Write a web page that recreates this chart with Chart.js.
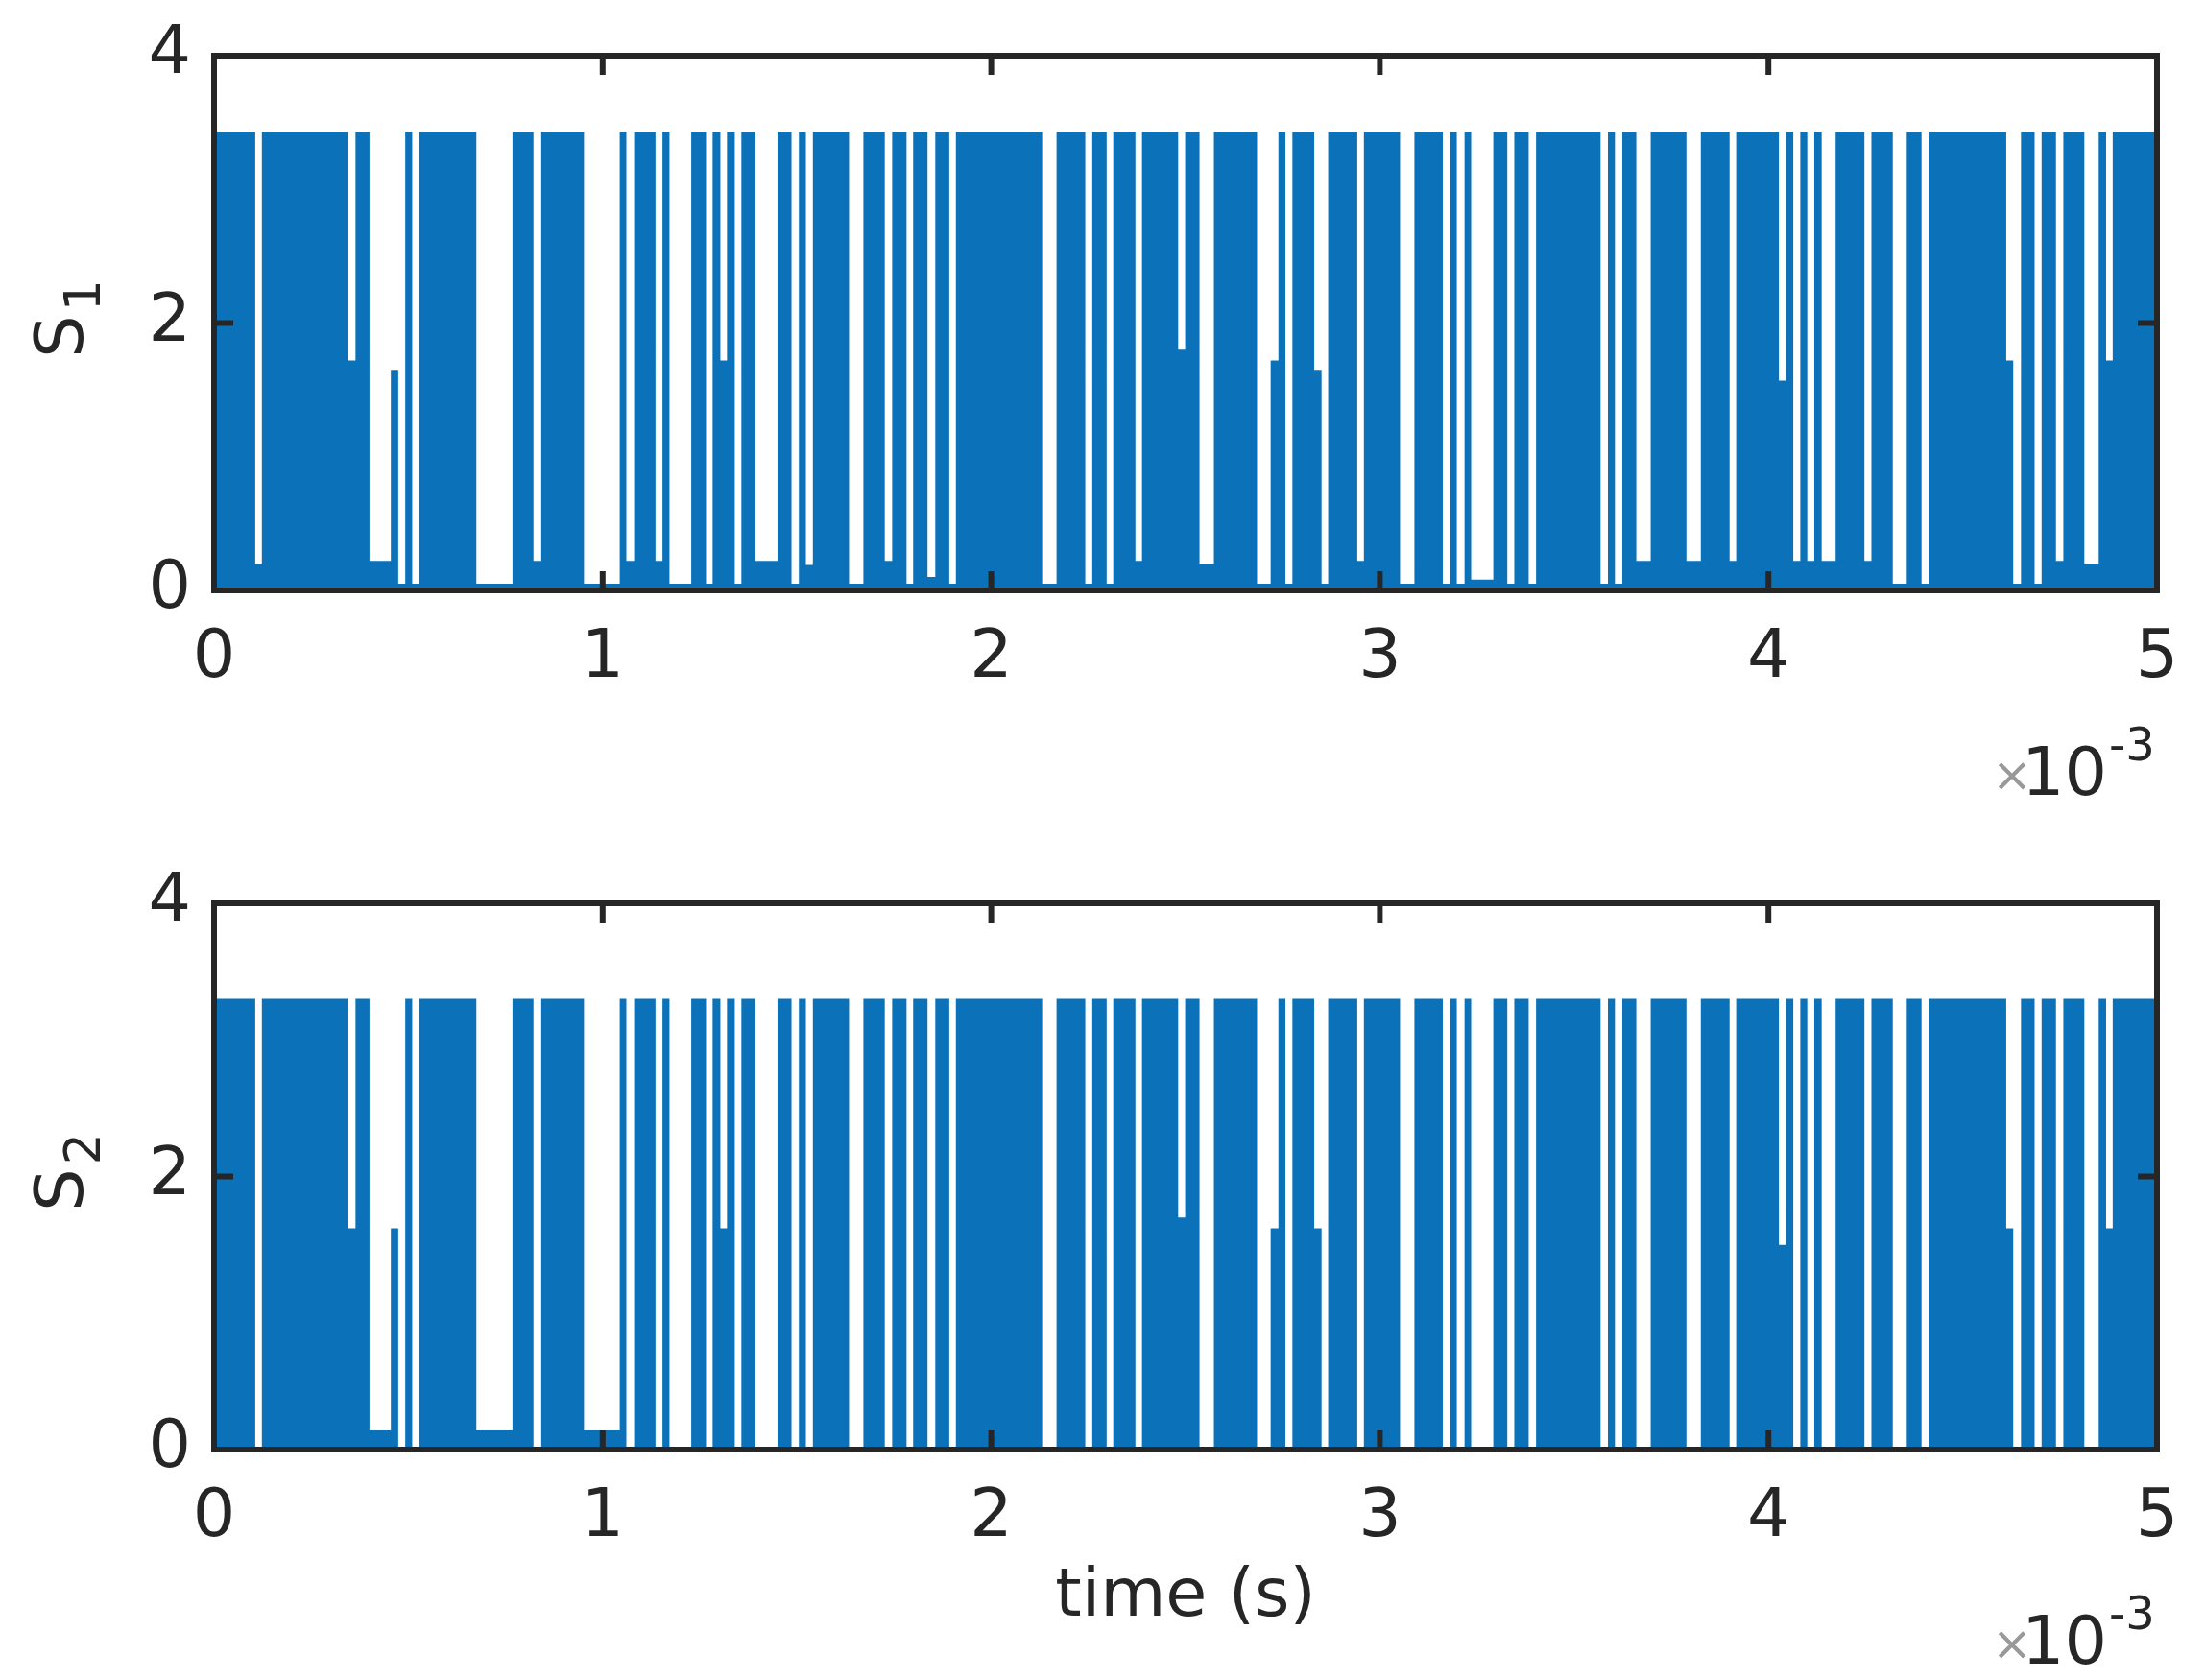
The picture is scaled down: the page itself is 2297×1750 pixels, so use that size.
<!DOCTYPE html>
<html><head><meta charset="utf-8">
<script src="https://cdn.jsdelivr.net/npm/chart.js@4"></script>
<style>
html,body{margin:0;padding:0;background:#fff;width:2297px;height:1750px;overflow:hidden}
.c{position:absolute;left:0;width:2297px;height:875px}
</style></head><body>
<div class="c" style="top:0"><canvas id="c1"></canvas></div>
<div class="c" style="top:875px"><canvas id="c2"></canvas></div>
<script>
// time in ms (axis shown ×10^-3 s)
const xTicks = [0,1,2,3,4,5];
const yTicks = [0,2,4];
// intervals where the switching signal stays low: [start ms, end ms, level]
const gapStart = [0.106,0.344,0.400,0.455,0.474,0.510,0.675,0.822,0.952,1.061,1.136,1.172,1.266,1.303,1.340,1.393,1.486,1.523,1.634,1.726,1.782,1.836,1.892,2.131,2.242,2.297,2.371,2.481,2.536,2.684,2.719,2.757,2.831,2.850,2.942,3.052,3.162,3.198,3.235,3.328,3.383,3.568,3.605,3.660,3.789,3.900,4.027,4.064,4.100,4.137,4.247,4.320,4.394,4.612,4.630,4.685,4.740,4.813,4.869];
const gapEnd   = [0.123,0.364,0.455,0.474,0.492,0.528,0.768,0.842,1.044,1.081,1.154,1.228,1.283,1.320,1.357,1.450,1.505,1.541,1.671,1.745,1.799,1.856,1.909,2.168,2.260,2.314,2.388,2.499,2.573,2.719,2.739,2.775,2.850,2.867,2.959,3.089,3.181,3.218,3.292,3.346,3.402,3.587,3.624,3.697,3.826,3.917,4.045,4.082,4.118,4.173,4.265,4.356,4.412,4.630,4.650,4.703,4.759,4.850,4.886];
const gapLevel1= [0.20,1.72,0.22,1.65,0.05,0.05,0.05,0.22,0.05,0.22,0.22,0.05,0.05,1.72,0.05,0.22,0.05,0.19,0.05,0.22,0.05,0.10,0.05,0.05,0.05,0.05,0.22,1.80,0.20,0.05,1.72,0.05,1.65,0.05,0.22,0.05,0.05,0.05,0.08,0.05,0.05,0.05,0.05,0.22,0.22,0.22,1.57,0.22,0.22,0.22,0.22,0.05,0.05,1.72,0.05,0.05,0.22,0.20,1.72];
const gapLevel2= [0.02,1.62,0.14,1.62,0.02,0.02,0.14,0.02,0.14,0.02,0.02,0.02,0.02,1.62,0.02,0.02,0.02,0.02,0.02,0.02,0.02,0.02,0.02,0.02,0.02,0.02,0.02,1.70,0.02,0.02,1.62,0.02,1.62,0.02,0.02,0.02,0.02,0.02,0.02,0.02,0.02,0.02,0.02,0.02,0.02,0.02,1.50,0.02,0.02,0.02,0.02,0.02,0.02,1.62,0.02,0.02,0.02,0.02,1.62];
const high1 = 3.43, high2 = 3.30;

function build(levels, high){
  const pts=[{x:0,y:high}];
  for(let i=0;i<gapStart.length;i++){
    pts.push({x:gapStart[i],y:levels[i]});
    pts.push({x:gapEnd[i],y:high});
  }
  pts.push({x:5,y:high});
  return pts;
}
const INK='#262626', BLUE='#0b72b9', FONT='"DejaVu Sans", sans-serif';

const frame={id:'frame',afterDraw(ch,a,o){
  const c=ch.ctx,{left,right,top,bottom}=ch.chartArea,xs=ch.scales.x,ys=ch.scales.y;
  c.save();c.strokeStyle=INK;c.lineWidth=6;
  c.strokeRect(left,top,right-left,bottom-top);
  xTicks.forEach(v=>{const p=xs.getPixelForValue(v);c.beginPath();c.moveTo(p,bottom);c.lineTo(p,bottom-20);c.moveTo(p,top);c.lineTo(p,top+20);c.stroke();});
  yTicks.forEach(v=>{const p=ys.getPixelForValue(v);c.beginPath();c.moveTo(left,p);c.lineTo(left+20,p);c.moveTo(right,p);c.lineTo(right-20,p);c.stroke();});
  c.fillStyle=INK;c.textBaseline='alphabetic';
  c.save();c.translate(86,(top+bottom)/2);c.rotate(-Math.PI/2);
  c.font='70px '+FONT;c.textAlign='left';
  const w=c.measureText('S').width;
  c.fillText('S',-w/2-14,0);
  c.font='52px '+FONT;c.fillText(o.sub,w/2-10,18);
  c.restore();
  c.font='70px '+FONT;c.textAlign='right';
  c.fillText('10',right-52,o.expY);
  c.font='48px '+FONT;c.textAlign='left';c.fillText('-3',right-50,o.expY-36);
  c.font='50px '+FONT;c.textAlign='right';c.fillStyle='#999';c.fillText('×',right-130,o.expY-4);
  if(o.xtitle){c.fillStyle=INK;c.font='70px '+FONT;c.textAlign='center';c.fillText(o.xtitle,(left+right)/2,o.xtitleY);}
  c.restore();
}};

function make(id,data,padTop,xH,opts){
  return new Chart(document.getElementById(id),{
    type:'line',
    data:{datasets:[{data:data,stepped:'before',fill:'origin',backgroundColor:BLUE,borderColor:BLUE,borderWidth:0,pointRadius:0,tension:0}]},
    options:{responsive:true,maintainAspectRatio:false,animation:false,
      layout:{padding:{top:padTop,right:50,left:0,bottom:0}},
      plugins:{legend:{display:false},tooltip:{enabled:false},frame:opts},
      scales:{
        x:{type:'linear',min:0,max:5,afterBuildTicks:s=>{s.ticks=xTicks.map(v=>({value:v}));},
          grid:{display:false},border:{display:false},
          ticks:{color:INK,font:{size:70,family:FONT},padding:22,maxRotation:0},
          afterFit:s=>{s.height=xH;}},
        y:{min:0,max:4,afterBuildTicks:s=>{s.ticks=yTicks.map(v=>({value:v}));},
          grid:{display:false},border:{display:false},
          ticks:{color:INK,font:{size:70,family:FONT},padding:16},
          afterFit:s=>{s.width=223;}}
      }},
    plugins:[frame]});
}
make('c1',build(gapLevel1,high1),56,260,{sub:'1',expY:828});
make('c2',build(gapLevel2,high2),66,240,{sub:'2',expY:858,xtitle:'time (s)',xtitleY:808});
</script></body></html>
